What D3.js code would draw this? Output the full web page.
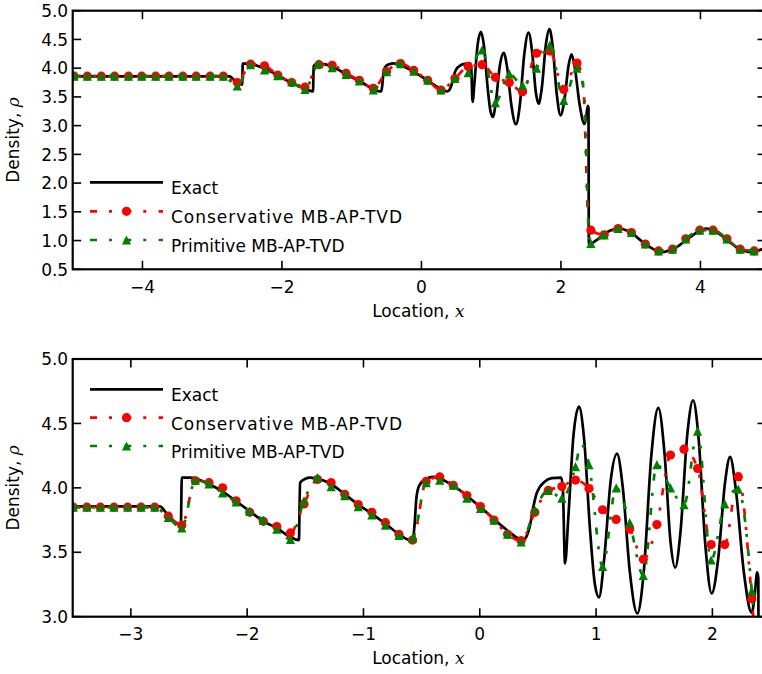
<!DOCTYPE html>
<html>
<head>
<meta charset="utf-8">
<script src="https://cdnjs.cloudflare.com/ajax/libs/d3/7.8.5/d3.min.js"></script>
<style>
    body { margin: 0; background: #fff; }
    text { font-family: "DejaVu Sans", sans-serif; fill: #000; }
</style>
</head>
<body>
<div id="chart"></div>
<script>
"use strict";

/***** data *****/

// exact solution (shared by both panels, the lower one is a zoom)
const exactX = [-5.00, -2.75, -2.70, -2.606, -2.57, -2.562, -2.49, -2.33, -2.21, -2.10, -1.98, -1.86,
    -1.75, -1.63, -1.555, -1.545, -1.50, -1.46, -1.28, -1.16, -1.045, -0.93, -0.81, -0.70, -0.60,
    -0.575, -0.56, -0.545, -0.52, -0.46, -0.40, -0.26, 0.00, 0.23, 0.37, 0.40, 0.43, 0.46, 0.49,
    0.56, 0.62, 0.70, 0.714, 0.733, 0.762, 0.805, 0.853, 0.895, 0.95, 0.99, 1.025, 1.07, 1.125,
    1.18, 1.23, 1.29, 1.355, 1.41, 1.475, 1.535, 1.59, 1.64, 1.68, 1.725, 1.785, 1.834, 1.88, 1.94,
    1.994, 2.05, 2.11, 2.152, 2.20, 2.27, 2.338, 2.362, 2.385, 2.395, 2.40, 2.50, 2.62, 2.70, 2.83,
    3.00, 3.20, 3.44, 3.65, 3.85, 4.08, 4.30, 4.50, 4.71, 4.95];
const exactRho = [3.857, 3.857, 3.81, 3.725, 3.715, 4.08, 4.08, 4.03, 3.97, 3.90, 3.82, 3.74,
    3.69, 3.62, 3.595, 4.04, 4.07, 4.08, 4.03, 3.95, 3.87, 3.80, 3.72, 3.645, 3.595,
    3.60, 3.72, 3.92, 4.02, 4.07, 4.085, 4.035, 3.855, 3.675, 3.595, 3.62, 3.70, 3.85, 3.96,
    4.05, 4.075, 4.08, 4.00, 3.414, 3.78, 4.40, 4.63, 4.40, 3.65, 3.25, 3.15, 3.45, 4.05,
    4.265, 4.00, 3.35, 3.025, 3.35, 4.25, 4.62, 4.25, 3.58, 3.38, 3.65, 4.42, 4.68, 4.40, 3.55,
    3.18, 3.45, 4.05, 4.24, 4.00, 3.35, 3.03, 3.15, 3.345, 3.30, 0.93, 1.00, 1.11, 1.17, 1.21,
    1.14, 0.95, 0.80, 0.88, 1.06, 1.21, 1.09, 0.90, 0.80, 0.88];

// upper panel, marked cells
const topX = [-4.98, -4.79, -4.59, -4.40, -4.20, -4.01, -3.81, -3.62, -3.42, -3.23, -3.03, -2.84,
    -2.64, -2.45, -2.25, -2.06, -1.86, -1.67, -1.47, -1.28, -1.08, -0.89, -0.69, -0.50, -0.30, -0.11,
    0.09, 0.28, 0.48, 0.67, 0.87, 1.06, 1.26, 1.45, 1.65, 1.84, 2.04, 2.23, 2.43, 2.62, 2.82, 3.01,
    3.21, 3.40, 3.60, 3.79, 3.99, 4.18, 4.38, 4.57, 4.77, 4.96];
const topCons = [3.86, 3.86, 3.86, 3.86, 3.86, 3.86, 3.86, 3.86, 3.86, 3.86, 3.86, 3.86,
    3.75, 4.07, 4.04, 3.88, 3.75, 3.67, 4.06, 4.05, 3.91, 3.79, 3.65, 3.94, 4.08, 3.96,
    3.79, 3.62, 3.82, 4.03, 4.06, 3.84, 3.75, 3.59, 4.26, 4.30, 3.63, 4.09, 1.18, 1.10, 1.21, 1.14,
    0.94, 0.82, 0.85, 1.03, 1.18, 1.18, 1.03, 0.85, 0.82, 0.88];
const topPrim = [3.86, 3.86, 3.86, 3.86, 3.86, 3.86, 3.86, 3.86, 3.86, 3.86, 3.86, 3.86,
    3.69, 4.06, 3.97, 3.87, 3.76, 3.63, 4.08, 4.01, 3.89, 3.78, 3.62, 3.94, 4.08, 3.95,
    3.79, 3.62, 3.82, 3.92, 4.32, 3.40, 3.90, 3.70, 4.00, 4.40, 3.44, 4.00, 0.95, 1.10, 1.21, 1.14,
    0.94, 0.82, 0.85, 1.03, 1.18, 1.18, 1.03, 0.85, 0.82, 0.88];
// unmarked cells on the shock
const topConsExtraX = [2.32, 2.39], topConsExtraY = [3.70, 1.40];
const topPrimExtraX = [2.33, 2.40], topPrimExtraY = [3.60, 1.15];

// lower panel, marked cells
const botX = [-3.495, -3.378, -3.262, -3.145, -3.028, -2.912, -2.795, -2.678, -2.562, -2.445,
    -2.328, -2.211, -2.095, -1.978, -1.861, -1.745, -1.628, -1.511, -1.395, -1.278, -1.161, -1.045,
    -0.928, -0.811, -0.695, -0.578, -0.461, -0.344, -0.228, -0.111, 0.006, 0.122, 0.239, 0.356,
    0.473, 0.589, 0.706, 0.823, 0.939, 1.056, 1.173, 1.289, 1.406, 1.523, 1.640, 1.756, 1.873,
    1.989, 2.106, 2.223, 2.339, 2.456];
const botCons = [3.85, 3.85, 3.85, 3.85, 3.85, 3.85, 3.85, 3.78, 3.71, 4.055,
    4.04, 4.00, 3.90, 3.81, 3.74, 3.70, 3.65, 3.875, 4.065, 4.04, 3.95, 3.87,
    3.81, 3.73, 3.64, 3.595, 4.05, 4.085, 4.02, 3.94, 3.855, 3.75, 3.64, 3.59,
    3.81, 3.98, 4.01, 4.06, 3.995, 3.83, 3.755, 3.68, 3.445, 3.715, 4.255, 4.30, 4.15,
    3.56, 3.56, 4.087, 3.14, 1.60];
const botPrim = [3.85, 3.85, 3.85, 3.85, 3.85, 3.85, 3.85, 3.77, 3.69, 4.06,
    4.03, 3.96, 3.89, 3.82, 3.75, 3.68, 3.60, 3.90, 4.08, 4.01, 3.94, 3.855,
    3.79, 3.71, 3.63, 3.61, 4.04, 4.06, 4.02, 3.92, 3.84, 3.75, 3.64, 3.58,
    3.83, 3.98, 3.92, 4.165, 4.18, 3.39, 4.00, 3.73, 3.32, 4.18, 4.00, 3.87, 4.44,
    3.44, 3.875, 3.99, 3.20, 1.60];
const botConsExtraX = [], botConsExtraY = [];
const botPrimExtraX = [0.87], botPrimExtraY = [4.34];

const labels = ["Exact", "Conservative MB-AP-TVD", "Primitive MB-AP-TVD"];
const topXTicks = [-4, -2, 0, 2, 4],
    topYTicks = [0.5, 1.0, 1.5, 2.0, 2.5, 3.0, 3.5, 4.0, 4.5, 5.0];
const botXTicks = [-3, -2, -1, 0, 1, 2],
    botYTicks = [3.0, 3.5, 4.0, 4.5, 5.0];


/***** layout *****/

const W = 762, H = 674,
    fontSize = 17,
    lw = 2.7,
    tickLen = 8.5,
    dash = "7,12,3,12.3",
    red = "#ff0000",
    green = "#008000";

const svg = d3.select("#chart")
    .append("svg")
    .attr("width", W)
    .attr("height", H);

const tri = s => `M0,${-s}L${s},${s}L${-s},${s}Z`;

function panel(cfg) {
    let x = d3.scaleLinear().domain(cfg.xDomain).range([cfg.left, cfg.right]),
        y = d3.scaleLinear().domain(cfg.yDomain).range([cfg.bottom, cfg.top]);

    let g = svg.append("g");

    g.append("clipPath")
    .attr("id", "clip-" + cfg.name)
    .append("rect")
    .attr("x", cfg.left)
    .attr("y", cfg.top)
    .attr("width", cfg.right - cfg.left)
    .attr("height", cfg.bottom - cfg.top);

    let plot = g.append("g").attr("clip-path", `url(#clip-${cfg.name})`);

    let line = d3.line()
    .x(d => x(d[0]))
    .y(d => y(d[1]))
    .curve(d3.curveMonotoneX);

    plot.append("path")
    .datum(d3.zip(exactX, exactRho))
    .attr("d", line)
    .attr("fill", "none")
    .attr("stroke", "#000")
    .attr("stroke-width", lw)
    .attr("stroke-linejoin", "round");

    cfg.series.forEach(s => {
        let marks = d3.zip(cfg.xs, s.vals),
            pts = marks.concat(d3.zip(s.exX, s.exY)).sort((a, b) => a[0] - b[0]);

        plot.append("path")
        .datum(pts)
        .attr("d", line)
        .attr("fill", "none")
        .attr("stroke", s.color)
        .attr("stroke-width", lw)
        .attr("stroke-dasharray", dash);

        plot.selectAll(null)
        .data(marks)
        .enter()
        .append("path")
        .attr("d", s.marker === "o" ? d3.symbol(d3.symbolCircle, Math.PI * 4.6 * 4.6)() : tri(4.6))
        .attr("transform", d => `translate(${x(d[0])},${y(d[1])})`)
        .attr("fill", s.color);
    });

    // frame
    g.append("rect")
    .attr("x", cfg.left)
    .attr("y", cfg.top)
    .attr("width", cfg.right - cfg.left)
    .attr("height", cfg.bottom - cfg.top)
    .attr("fill", "none")
    .attr("stroke", "#000")
    .attr("stroke-width", 2.2);

    // ticks, all pointing inwards
    let tk = g.append("g").attr("stroke", "#000").attr("stroke-width", 1.6);
    cfg.xTicks.forEach(t => {
        tk.append("line").attr("x1", x(t)).attr("x2", x(t)).attr("y1", cfg.bottom).attr("y2", cfg.bottom - tickLen);
        tk.append("line").attr("x1", x(t)).attr("x2", x(t)).attr("y1", cfg.top).attr("y2", cfg.top + tickLen);
    });
    cfg.yTicks.forEach(t => {
        tk.append("line").attr("y1", y(t)).attr("y2", y(t)).attr("x1", cfg.left).attr("x2", cfg.left + tickLen);
        tk.append("line").attr("y1", y(t)).attr("y2", y(t)).attr("x1", cfg.right).attr("x2", cfg.right - tickLen);
    });

    g.selectAll(null)
    .data(cfg.xTicks)
    .enter()
    .append("text")
    .attr("x", d => x(d))
    .attr("y", cfg.bottom + 23.3)
    .attr("text-anchor", "middle")
    .style("font-size", fontSize + "px")
    .text(d3.format("d"));

    g.selectAll(null)
    .data(cfg.yTicks)
    .enter()
    .append("text")
    .attr("x", cfg.left - 4.5)
    .attr("y", d => y(d) + 6.2)
    .attr("text-anchor", "end")
    .style("font-size", fontSize + "px")
    .text(d3.format(".1f"));

    // axis labels
    let xl = g.append("text")
    .attr("x", (cfg.left + cfg.right) / 2 - 1)
    .attr("y", cfg.bottom + 47.5)
    .attr("text-anchor", "middle")
    .style("font-size", fontSize + "px")
    .text("Location, ");
    xl.append("tspan")
    .style("font-family", "'DejaVu Serif', serif")
    .style("font-style", "italic")
    .text("x");

    let yl = g.append("text")
    .attr("transform", `translate(19.3,${(cfg.top + cfg.bottom) / 2}) rotate(-90)`)
    .attr("text-anchor", "middle")
    .style("font-size", fontSize + "px")
    .text("Density, ");
    yl.append("tspan")
    .style("font-family", "'DejaVu Serif', serif")
    .style("font-style", "italic")
    .text("ρ");

    // legend
    let lg = g.append("g");
    labels.forEach((lab, i) => {
        let ly = cfg.legendY[i];
        let row = lg.append("g");
        if (i === 0) {
            row.append("line").attr("x1", 90).attr("x2", 163).attr("y1", ly).attr("y2", ly)
            .attr("stroke", "#000").attr("stroke-width", lw);
        } else {
            let s = cfg.series[i - 1];
            row.append("line").attr("x1", 90).attr("x2", 163).attr("y1", ly).attr("y2", ly)
            .attr("stroke", s.color).attr("stroke-width", lw).attr("stroke-dasharray", dash);
            row.append("path")
            .attr("d", s.marker === "o" ? d3.symbol(d3.symbolCircle, Math.PI * 4.6 * 4.6)() : tri(4.6))
            .attr("transform", `translate(126.5,${ly})`)
            .attr("fill", s.color);
        }
        let t = row.append("text")
        .attr("x", 171)
        .attr("y", ly + 11.8)
        .style("font-size", fontSize + "px")
        .text(lab);
        // the reference sets this label wider than its neighbours
        if (i === 1) t.attr("textLength", 231).attr("lengthAdjust", "spacing");
    });
}

panel({
    name: "top",
    left: 72.7, right: 766, top: 10.7, bottom: 269.3,
    xDomain: [-5, 4.94], yDomain: [0.5, 5.0],
    xTicks: topXTicks, yTicks: topYTicks,
    xs: topX,
    series: [
        {vals: topCons, exX: topConsExtraX, exY: topConsExtraY, color: red, marker: "o"},
        {vals: topPrim, exX: topPrimExtraX, exY: topPrimExtraY, color: green, marker: "^"}
    ],
    legendY: [182.3, 211.3, 240]
});

panel({
    name: "bot",
    left: 72.7, right: 766, top: 359, bottom: 616.7,
    xDomain: [-3.5, 2.461], yDomain: [3.0, 5.0],
    xTicks: botXTicks, yTicks: botYTicks,
    xs: botX,
    series: [
        {vals: botCons, exX: botConsExtraX, exY: botConsExtraY, color: red, marker: "o"},
        {vals: botPrim, exX: botPrimExtraX, exY: botPrimExtraY, color: green, marker: "^"}
    ],
    legendY: [389.3, 417.7, 446]
});
</script>
</body>
</html>
